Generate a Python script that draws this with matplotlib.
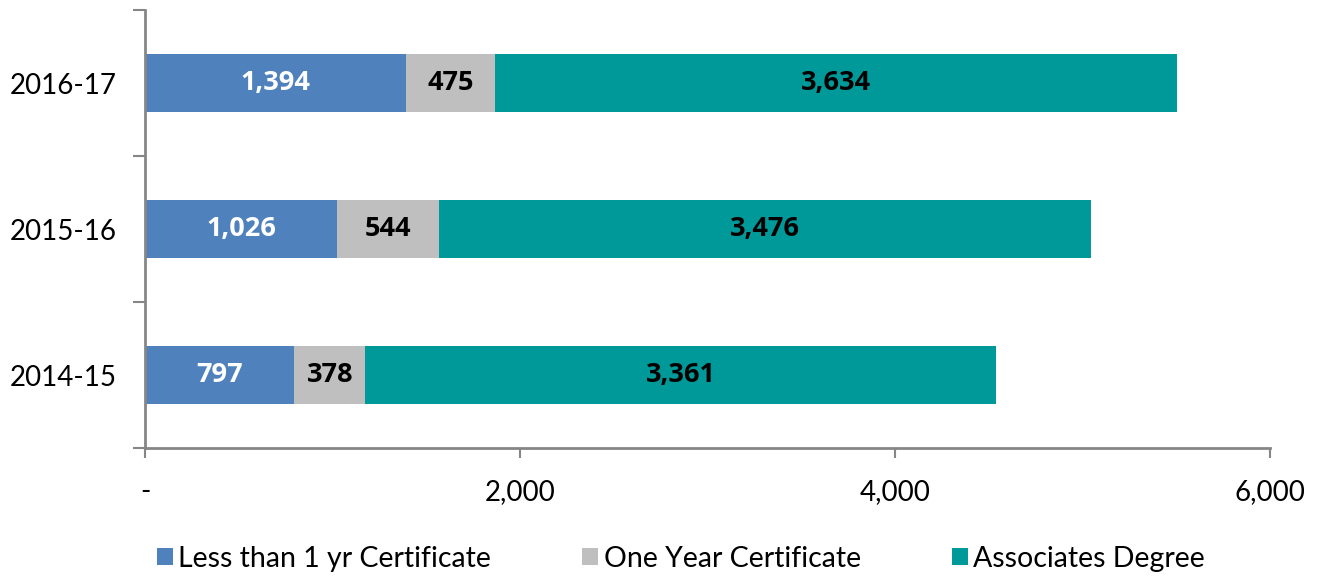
import numpy as np
import matplotlib
matplotlib.use('Agg')
import matplotlib.pyplot as plt
from matplotlib.patches import Patch

# data
years = ['2014-15', '2015-16', '2016-17']
less_than_1yr = [797, 1026, 1394]
one_year = [378, 544, 475]
associates = [3361, 3476, 3634]
series_names = ['Less than 1 yr Certificate', 'One Year Certificate', 'Associates Degree']
x_ticks = [0, 2000, 4000, 6000]
x_tick_labels = ['-', '2,000', '4,000', '6,000']

colors = ['#4F81BD', '#BFBFBF', '#009999']
label_colors = ['white', 'black', 'black']
axis_gray = '#868686'

fig = plt.figure(figsize=(13.17, 5.76), dpi=100)
ax = fig.add_axes([145/1317, 1-448/576, (1270-145)/1317, 438/576])

y = np.arange(len(years))
left = np.zeros(len(years))
for vals, c, lc, name in zip([less_than_1yr, one_year, associates], colors, label_colors, series_names):
    bars = ax.barh(y, vals, left=left, height=0.4, color=c, label=name)
    for b, v in zip(bars, vals):
        ax.text(b.get_x() + b.get_width()/2, b.get_y() + b.get_height()/2, '{:,}'.format(v),
                ha='center', va='center', color=lc, fontsize=19.5, fontweight='bold',
                family='Open Sans')
    left = left + np.array(vals)

ax.set_xlim(0, 6000)
ax.set_ylim(-0.5, 2.5)

for s in ['top', 'right']:
    ax.spines[s].set_visible(False)
for s in ['left', 'bottom']:
    ax.spines[s].set_color(axis_gray)
    ax.spines[s].set_linewidth(2)

ax.set_xticks(x_ticks)
ax.set_xticklabels(x_tick_labels, fontsize=20, family='Lato')
ax.tick_params(axis='x', direction='out', length=7, width=1.5, color=axis_gray, pad=15)

ax.set_yticks(y)
ax.set_yticklabels(years, fontsize=20, family='Lato')
ax.tick_params(axis='y', which='major', length=0, pad=20)
ax.set_yticks([-0.5, 0.5, 1.5, 2.5], minor=True)
ax.tick_params(axis='y', which='minor', direction='out', length=9, width=1.5, color=axis_gray)

handles = [Patch(facecolor=c, edgecolor='none') for c in colors]
leg = fig.legend(handles, series_names, loc='lower left', bbox_to_anchor=(140/1317, -0.022),
                 ncol=3, frameon=False, handlelength=0.55, handleheight=0.55,
                 handletextpad=0.2, columnspacing=3.2, borderaxespad=0.2,
                 prop={'family': 'Lato', 'size': 20.5})

plt.savefig('out.png', dpi=100)
